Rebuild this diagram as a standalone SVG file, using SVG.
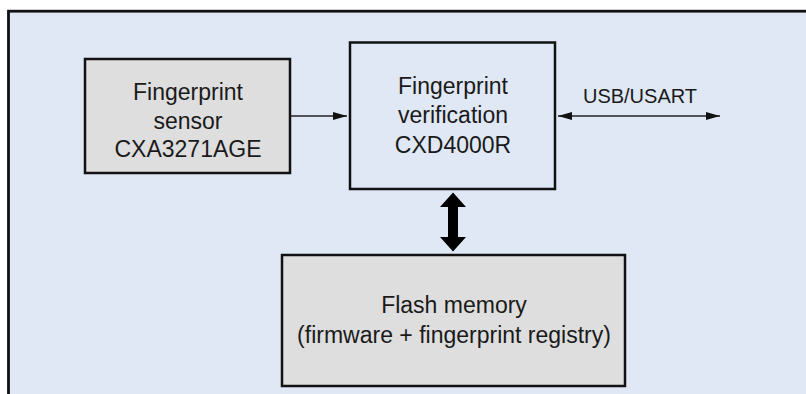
<svg xmlns="http://www.w3.org/2000/svg" width="806" height="394" viewBox="0 0 806 394">
<style>
.box{stroke:#111;stroke-width:2.5}
.gray{fill:#dedede}
.blue{fill:#dfe8f4}
.t{font-family:"Liberation Sans",Arial,sans-serif;font-size:23px;fill:#1a1a1a;text-anchor:middle}
.lbl{font-family:"Liberation Sans",Arial,sans-serif;font-size:20px;fill:#1a1a1a;text-anchor:middle}
.ln{stroke:#222;stroke-width:1.6;fill:none}
</style>
<defs>
<marker id="ah" viewBox="0 0 14 8" refX="14" refY="4" markerWidth="14" markerHeight="8" markerUnits="userSpaceOnUse" orient="auto-start-reverse">
<path d="M0,0 L14,4 L0,8 Z" fill="#111"/>
</marker>
</defs>
<rect x="0" y="0" width="806" height="394" fill="#ffffff"/>
<rect x="8.5" y="11.2" width="810" height="400" fill="#dfe8f4" stroke="#111" stroke-width="2.8"/>
<g id="sensor">
<rect class="box gray" x="85" y="59" width="205" height="114"/>
<text class="t" x="188" y="100">Fingerprint</text>
<text class="t" x="188" y="128.5">sensor</text>
<text class="t" x="188" y="157">CXA3271AGE</text>
</g>
<g id="verification">
<rect class="box blue" x="350" y="42.5" width="205" height="146.5"/>
<text class="t" x="453" y="94">Fingerprint</text>
<text class="t" x="453" y="123">verification</text>
<text class="t" x="453" y="153">CXD4000R</text>
</g>
<g id="flash">
<rect class="box gray" x="282" y="255" width="343" height="131"/>
<text class="t" x="454" y="313">Flash memory</text>
<text class="t" x="454" y="343">(firmware + fingerprint registry)</text>
</g>
<g id="connectors">
<line class="ln" x1="291" y1="116" x2="347" y2="116" marker-end="url(#ah)"/>
<line class="ln" x1="558" y1="116" x2="720" y2="116" marker-start="url(#ah)" marker-end="url(#ah)"/>
<text class="lbl" x="640" y="103">USB/USART</text>
<path d="M453,192.5 L466,207 L458,207 L458,237 L466,237 L453,251.5 L440,237 L448,237 L448,207 L440,207 Z" fill="#000"/>
</g>
</svg>
